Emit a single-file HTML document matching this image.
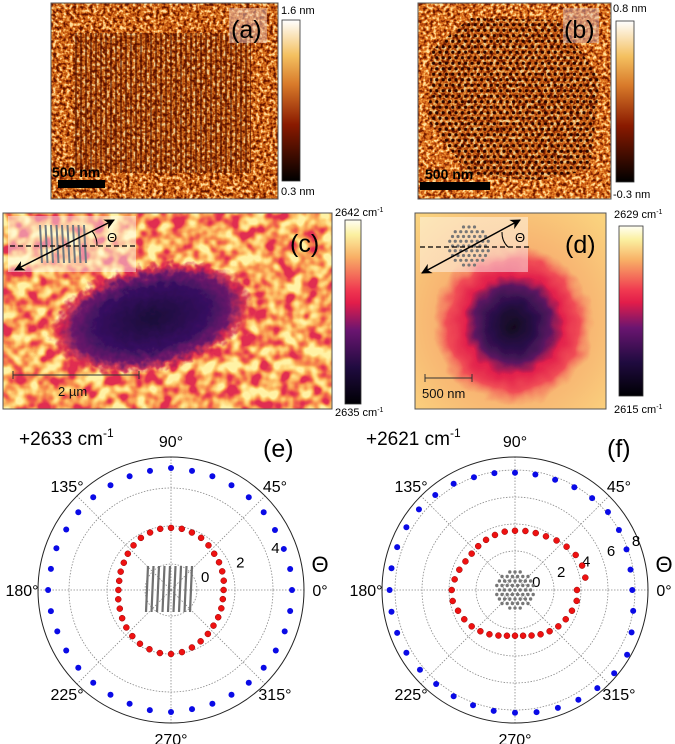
<!DOCTYPE html>
<html><head><meta charset="utf-8">
<style>
html,body{margin:0;padding:0;background:#fff;}
svg{display:block;font-family:"Liberation Sans","DejaVu Sans",sans-serif;}
</style></head>
<body>
<svg id="fig" width="675" height="744" viewBox="0 0 675 744" xmlns="http://www.w3.org/2000/svg">
<defs>
  <filter id="afmA" color-interpolation-filters="sRGB" filterUnits="userSpaceOnUse" x="51" y="3" width="227" height="196">
    <feTurbulence type="fractalNoise" baseFrequency="0.3" numOctaves="2" seed="3"/>
    <feColorMatrix type="matrix" values="2.4 0 0 0 -0.7  2.4 0 0 0 -0.7  2.4 0 0 0 -0.7  0 0 0 0 1"/>
    <feComponentTransfer>
      <feFuncR type="table" tableValues="0.38 0.6 0.76 0.86 0.95 1"/>
      <feFuncG type="table" tableValues="0.08 0.2 0.33 0.46 0.64 0.86"/>
      <feFuncB type="table" tableValues="0.0 0.02 0.06 0.12 0.3 0.6"/>
    </feComponentTransfer>
  </filter>
  <filter id="afmB" color-interpolation-filters="sRGB" filterUnits="userSpaceOnUse" x="418" y="3" width="193" height="196">
    <feTurbulence type="fractalNoise" baseFrequency="0.3" numOctaves="2" seed="8"/>
    <feColorMatrix type="matrix" values="2.4 0 0 0 -0.7  2.4 0 0 0 -0.7  2.4 0 0 0 -0.7  0 0 0 0 1"/>
    <feComponentTransfer>
      <feFuncR type="table" tableValues="0.42 0.64 0.8 0.9 0.97 1"/>
      <feFuncG type="table" tableValues="0.1 0.23 0.36 0.5 0.68 0.88"/>
      <feFuncB type="table" tableValues="0.0 0.03 0.08 0.15 0.33 0.62"/>
    </feComponentTransfer>
  </filter>
  <filter id="ramC" color-interpolation-filters="sRGB" filterUnits="userSpaceOnUse" x="3" y="213" width="329" height="196">
    <feTurbulence type="fractalNoise" baseFrequency="0.075" numOctaves="2" seed="5"/>
    <feColorMatrix type="matrix" values="2.6 0 0 0 -0.8  2.6 0 0 0 -0.8  2.6 0 0 0 -0.8  0 0 0 0 1"/>
    <feComponentTransfer>
      <feFuncR type="table" tableValues="0.88 0.94 0.97 0.99 1 1"/>
      <feFuncG type="table" tableValues="0.18 0.35 0.55 0.72 0.86 0.95"/>
      <feFuncB type="table" tableValues="0.32 0.3 0.3 0.38 0.5 0.65"/>
    </feComponentTransfer>
  </filter>
  <filter id="rough" x="-30%" y="-30%" width="160%" height="160%">
    <feTurbulence type="fractalNoise" baseFrequency="0.14" numOctaves="2" seed="2" result="n"/>
    <feDisplacementMap in="SourceGraphic" in2="n" scale="14" xChannelSelector="R" yChannelSelector="G"/>
  </filter>
  <filter id="roughD" x="-30%" y="-30%" width="160%" height="160%">
    <feTurbulence type="fractalNoise" baseFrequency="0.06" numOctaves="2" seed="4" result="n"/>
    <feDisplacementMap in="SourceGraphic" in2="n" scale="12" xChannelSelector="R" yChannelSelector="G"/>
  </filter>
  <radialGradient id="blobC">
    <stop offset="0" stop-color="#1a0838"/>
    <stop offset="0.55" stop-color="#361060"/>
    <stop offset="0.78" stop-color="#701a6a"/>
    <stop offset="0.9" stop-color="#d02050" stop-opacity="0.85"/>
    <stop offset="1" stop-color="#e8304e" stop-opacity="0"/>
  </radialGradient>
  <radialGradient id="bgD" cx="0.5" cy="0.55" r="0.7">
    <stop offset="0" stop-color="#f07a5a"/>
    <stop offset="0.5" stop-color="#f7b070"/>
    <stop offset="1" stop-color="#fad27e"/>
  </radialGradient>
  <radialGradient id="blobD">
    <stop offset="0" stop-color="#12061f"/>
    <stop offset="0.3" stop-color="#2a0f4a"/>
    <stop offset="0.48" stop-color="#5a1760"/>
    <stop offset="0.62" stop-color="#e2204c"/>
    <stop offset="0.82" stop-color="#f04c55"/>
    <stop offset="1" stop-color="#f4705a" stop-opacity="0"/>
  </radialGradient>
  <linearGradient id="cbAfm" x1="0" y1="1" x2="0" y2="0">
    <stop offset="0" stop-color="#000"/>
    <stop offset="0.35" stop-color="#8a1a00"/>
    <stop offset="0.6" stop-color="#d87a2a"/>
    <stop offset="0.78" stop-color="#f4c060"/>
    <stop offset="1" stop-color="#fff"/>
  </linearGradient>
  <linearGradient id="cbInf" x1="0" y1="1" x2="0" y2="0">
    <stop offset="0" stop-color="#000004"/>
    <stop offset="0.2" stop-color="#200b40"/>
    <stop offset="0.4" stop-color="#6a1570"/>
    <stop offset="0.55" stop-color="#e21d4a"/>
    <stop offset="0.62" stop-color="#f03850"/>
    <stop offset="0.8" stop-color="#f8b066"/>
    <stop offset="0.92" stop-color="#fbf0a0"/>
    <stop offset="1" stop-color="#fffff4"/>
  </linearGradient>
  <pattern id="stripes" patternUnits="userSpaceOnUse" width="5" height="10">
    <rect x="0" y="0" width="2" height="10" fill="#4a0c00" fill-opacity="0.55"/>
  </pattern>
  <pattern id="hexdots" patternUnits="userSpaceOnUse" width="6.4" height="11">
    <circle cx="1.6" cy="2.75" r="1.6" fill="#2a0500"/>
    <circle cx="4.8" cy="8.25" r="1.6" fill="#2a0500"/>
  </pattern>
  <clipPath id="hexclip"><polygon points="470,18 560,20 600,80 590,170 540,180 470,176 428,120 432,50"/></clipPath>
  <marker id="ah" viewBox="0 0 10 10" refX="9" refY="5" markerWidth="7" markerHeight="7" orient="auto-start-reverse">
    <path d="M0,0 L10,5 L0,10 L3,5 z" fill="#000"/>
  </marker>
</defs>

<g>
  <rect x="51" y="3" width="227" height="196" fill="#c06a28" filter="url(#afmA)"/>
  <rect x="73" y="33" width="178" height="140" fill="#5a1500" fill-opacity="0.1"/>
  <rect x="73" y="33" width="178" height="140" fill="url(#stripes)"/>
  <rect x="51" y="3" width="227" height="196" fill="none" stroke="#555" stroke-width="1"/>
  <rect x="229" y="8" width="38" height="35" fill="#e8c8c0" fill-opacity="0.5"/>
  <text x="231" y="38" font-size="25" fill="#000">(a)</text>
  <text x="52" y="177" font-size="14" font-weight="bold" fill="#000">500 nm</text>
  <rect x="58" y="180" width="47" height="8" fill="#000"/>
  <rect x="282" y="20" width="18" height="161" fill="url(#cbAfm)" stroke="#333" stroke-width="0.8"/>
  <text x="281" y="14" font-size="11">1.6 nm</text>
  <text x="281" y="195" font-size="11">0.3 nm</text>
</g>

<g>
  <rect x="418" y="3" width="193" height="196" fill="#c06a28" filter="url(#afmB)"/>
  <g clip-path="url(#hexclip)">
    <rect x="420" y="15" width="185" height="170" fill="#5a1500" fill-opacity="0.1"/>
    <rect x="420" y="15" width="185" height="170" fill="url(#hexdots)"/>
  </g>
  <rect x="418" y="3" width="193" height="196" fill="none" stroke="#555" stroke-width="1"/>
  <rect x="563" y="8" width="36" height="35" fill="#d8b8b8" fill-opacity="0.5"/>
  <text x="564" y="38" font-size="25" fill="#000">(b)</text>
  <text x="425" y="179" font-size="14" font-weight="bold" fill="#000">500 nm</text>
  <rect x="420" y="182" width="70" height="8" fill="#000"/>
  <rect x="616" y="21" width="18" height="161" fill="url(#cbAfm)" stroke="#333" stroke-width="0.8"/>
  <text x="613" y="12" font-size="11">0.8 nm</text>
  <text x="613" y="198" font-size="11">-0.3 nm</text>
</g>

<g>
  <rect x="3" y="213" width="329" height="196" fill="#f59a50" filter="url(#ramC)"/>
  <g filter="url(#rough)">
    <ellipse cx="152" cy="318" rx="104" ry="54" transform="rotate(-12 152 318)" fill="url(#blobC)"/>
  </g>
  <rect x="3" y="213" width="329" height="196" fill="none" stroke="#555" stroke-width="1"/>
  <rect x="8" y="216" width="128" height="56" fill="#fff" fill-opacity="0.45"/>
  <g stroke="#707880" stroke-width="2">
    <line x1="40" y1="225" x2="42" y2="263"/><line x1="45.5" y1="225" x2="47.5" y2="263"/>
    <line x1="51" y1="225" x2="53" y2="263"/><line x1="56.5" y1="225" x2="58.5" y2="263"/>
    <line x1="62" y1="225" x2="64" y2="263"/><line x1="67.5" y1="225" x2="69.5" y2="263"/>
    <line x1="73" y1="225" x2="75" y2="263"/><line x1="78.5" y1="225" x2="80.5" y2="263"/>
    <line x1="84" y1="225" x2="86" y2="263"/>
  </g>
  <line x1="10" y1="246" x2="136" y2="246" stroke="#000" stroke-width="1.3" stroke-dasharray="5,3"/>
  <line x1="15" y1="270" x2="114" y2="220" stroke="#000" stroke-width="1.5" marker-start="url(#ah)" marker-end="url(#ah)"/>
  <path d="M92,231 A22,22 0 0 1 97,246" fill="none" stroke="#000" stroke-width="1"/>
  <text x="107" y="242" font-size="13">Θ</text>
  <text x="290" y="252" font-size="25">(c)</text>
  <g stroke="#333" stroke-width="1">
    <line x1="13" y1="375" x2="139" y2="375"/><line x1="13" y1="371" x2="13" y2="379"/><line x1="139" y1="371" x2="139" y2="379"/>
  </g>
  <text x="58" y="396" font-size="13" fill="#111">2 µm</text>
  <rect x="345" y="220" width="16" height="184" fill="url(#cbInf)" stroke="#333" stroke-width="0.8"/>
  <text x="335" y="216" font-size="11">2642 cm<tspan font-size="7" dy="-4">-1</tspan></text>
  <text x="335" y="416" font-size="11">2635 cm<tspan font-size="7" dy="-4">-1</tspan></text>
</g>

<g>
  <rect x="415" y="213" width="191" height="196" fill="url(#bgD)"/>
  <g filter="url(#roughD)">
    <circle cx="513" cy="325" r="80" fill="url(#blobD)"/>
  </g>
  <rect x="415" y="213" width="191" height="196" fill="none" stroke="#555" stroke-width="1"/>
  <rect x="420" y="217" width="108" height="55" fill="#fff" fill-opacity="0.45"/>
  <g fill="#707880" id="insetDots"></g>
  <line x1="420" y1="247" x2="529" y2="247" stroke="#000" stroke-width="1.3" stroke-dasharray="5,3"/>
  <line x1="422" y1="273" x2="520" y2="220" stroke="#000" stroke-width="1.5" marker-start="url(#ah)" marker-end="url(#ah)"/>
  <path d="M502,232 A20,20 0 0 0 508,247" fill="none" stroke="#000" stroke-width="1"/>
  <text x="515" y="242" font-size="13">Θ</text>
  <text x="565" y="253" font-size="25">(d)</text>
  <g stroke="#333" stroke-width="1">
    <line x1="425" y1="378" x2="472" y2="378"/><line x1="425" y1="374" x2="425" y2="382"/><line x1="472" y1="374" x2="472" y2="382"/>
  </g>
  <text x="422" y="398" font-size="13" fill="#111">500 nm</text>
  <rect x="619" y="226" width="24" height="170" fill="url(#cbInf)" stroke="#333" stroke-width="0.8"/>
  <text x="614" y="218" font-size="11">2629 cm<tspan font-size="7" dy="-4">-1</tspan></text>
  <text x="614" y="413" font-size="11">2615 cm<tspan font-size="7" dy="-4">-1</tspan></text>
</g>

<g id="polarE"></g>
<g id="polarF"></g>
</svg>
<script>
const anglesDeg = [0,10,20,30,40,50,60,70,80,90,100,110,120,130,140,150,160,170,180,190,200,210,220,230,240,250,260,270,280,290,300,310,320,330,340,350];
const eRed  = [1.4,1.45,1.5,1.55,1.6,1.7,1.8,1.85,1.9,1.9,1.9,1.85,1.8,1.7,1.6,1.5,1.45,1.4,1.4,1.45,1.5,1.6,1.7,1.8,1.9,1.95,2.0,2.0,1.95,1.85,1.75,1.65,1.55,1.5,1.45,1.4];
const eBlue = [5.0,5.0,4.95,4.95,5.0,5.0,5.0,5.0,5.0,5.05,5.0,5.0,5.0,5.0,5.0,5.0,5.05,5.05,5.1,5.05,5.0,5.0,5.0,5.0,5.0,5.0,5.05,5.05,5.0,5.0,5.0,5.0,5.0,5.0,5.0,5.0];
const fRed  = [3.7,4.4,4.4,4.3,4.1,3.9,3.7,3.6,3.55,3.5,3.5,3.45,3.4,3.35,3.3,3.35,3.5,3.65,3.8,3.8,3.6,3.45,3.3,3.1,2.9,2.7,2.55,2.5,2.55,2.7,2.9,3.1,3.3,3.45,3.6,3.75];
const fBlue = [7.8,7.8,7.9,8.0,8.1,8.0,7.9,7.8,7.8,7.8,7.9,8.0,8.2,8.3,8.4,8.4,8.4,8.4,8.4,8.4,8.4,8.4,8.3,8.2,8.2,8.2,8.2,8.2,8.3,8.4,8.5,8.6,8.7,8.7,8.3,8.0];
const eTicks = ["0","2","4"];
const fTicks = ["0","2","4","6","8"];
const angleLabels = ["0°","45°","90°","135°","180°","225°","270°","315°"];

const NS = "http://www.w3.org/2000/svg";
function mk(tag, attrs, parent){const el=document.createElementNS(NS,tag);for(const k in attrs)el.setAttribute(k,attrs[k]);parent.appendChild(el);return el;}

function polar(g, cx, cy, R, r0, k, tickVals, red, blue, title, letter, lx){
  const rad = v => r0 + k*v;
  const pt = (a,v) => [cx + rad(v)*Math.cos(a*Math.PI/180), cy - rad(v)*Math.sin(a*Math.PI/180)];
  tickVals.forEach(t=>{
    const c=mk('circle',{cx:cx,cy:cy,r:rad(+t),fill:'none',stroke:'#888','stroke-width':0.8,'stroke-dasharray':'1.5,1.5'},g);
    
    
  });
  for(let a=0;a<360;a+=45){
    const ln=mk('line',{x1:cx,y1:cy,x2:cx+R*Math.cos(a*Math.PI/180),y2:cy-R*Math.sin(a*Math.PI/180),stroke:'#888','stroke-width':0.8,'stroke-dasharray':'1.5,1.5'},g);
    
    
  }
  const o=mk('circle',{cx:cx,cy:cy,r:R,fill:'none',stroke:'#222','stroke-width':1},g);
  
  
  angleLabels.forEach((lab,i)=>{
    const a=i*45*Math.PI/180, d=R+(i%2? 14:16);
    let x=cx+d*Math.cos(a), y=cy-d*Math.sin(a)+6;
    const t=mk('text',{x:x,y:y,'font-size':16,'text-anchor':'middle'},g);
    t.textContent=lab;
    
    
  });
  tickVals.forEach(tv=>{
    const d=rad(+tv)+11, a=22.5*Math.PI/180;
    const t=mk('text',{x:cx+d*Math.cos(a),y:cy-d*Math.sin(a)+6,'font-size':15,'text-anchor':'middle'},g);
    t.textContent=tv;
    
    
  });
  blue.forEach((v,i)=>{
    const [x,y]=pt(anglesDeg[i],v);
    const c=mk('circle',{cx:x,cy:y,r:3,fill:'#0a0ae6'},g);
    
    
  });
  red.forEach((v,i)=>{
    const [x,y]=pt(anglesDeg[i],v);
    const c=mk('circle',{cx:x,cy:y,r:3,fill:'#ee1111',stroke:'#900','stroke-width':0.5},g);
    
    
  });
  const tt=mk('text',{x:lx,y:cy-145,'font-size':19},g);
  tt.innerHTML=title+' cm<tspan font-size="12" dy="-8">-1</tspan>';
  
  
  const lt=mk('text',{x:cx+92,y:cy-133,'font-size':25},g);
  lt.textContent=letter;
  
  
  const th=mk('text',{x:cx+R+16,y:cy-18,'font-size':22,'text-anchor':'middle'},g);
  th.textContent='Θ';
  
  
}
const gE=document.getElementById('polarE'), gF=document.getElementById('polarF');
polar(gE,171,590,133,26,19,eTicks,eRed,eBlue,'+2633','(e)',19);
polar(gF,515,590,133,12,13.5,fTicks,fRed,fBlue,'+2621','(f)',366);

for(let i=0;i<9;i++){
  const l=mk('line',{x1:148+i*5.5,y1:566,x2:146+i*5.5,y2:612,stroke:'#707070','stroke-width':2.2},gE);
  
  
}
function hexDots(g,cx,cy,s,rr,n){
  for(let j=-n;j<=n;j++){for(let i=-n;i<=n;i++){
    const x=cx+(i+j*0.5)*s, y=cy+j*s*0.866;
    if(Math.hypot(x-cx,y-cy)<=n*s*0.95){
      const c=mk('circle',{cx:x,cy:y,r:rr,fill:'#777'},g);
      
      
    }
  }}
}
hexDots(gF,515,590,5.2,1.7,4);
hexDots(document.getElementById('insetDots'),469,246,5.5,1.6,4);
</script>
</body></html>
